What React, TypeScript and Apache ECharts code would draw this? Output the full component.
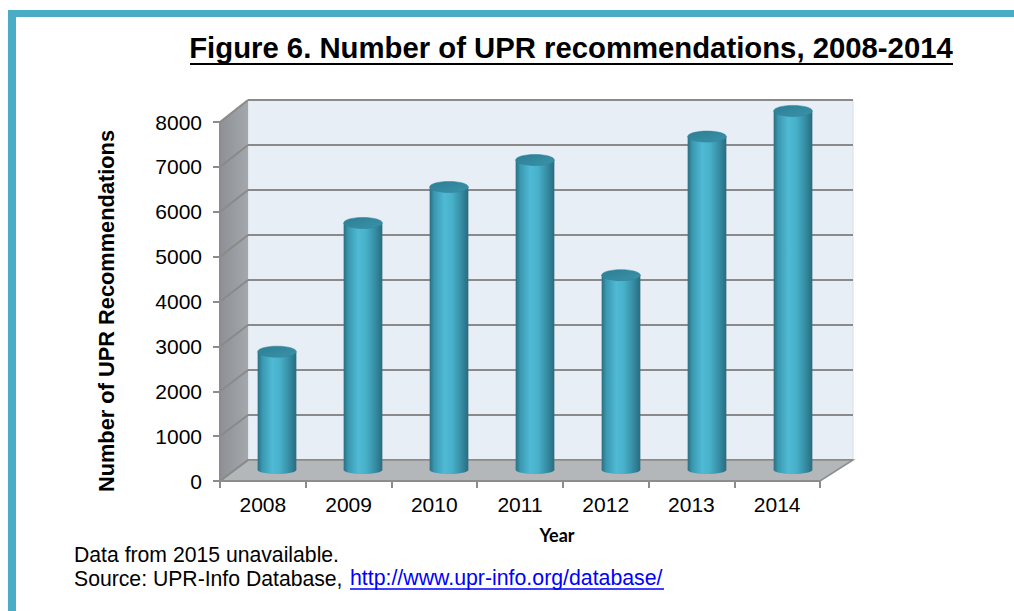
import React, { useEffect, useRef } from "react";
import * as echarts from "echarts";

const years = ["2008", "2009", "2010", "2011", "2012", "2013", "2014"];
const recommendations = [2630, 5490, 6290, 6890, 4330, 7410, 7980];
const yTicks = [0, 1000, 2000, 3000, 4000, 5000, 6000, 7000, 8000];

const FONT = "'Liberation Sans', Arial, sans-serif";

// plot geometry (3D box)
const BACK = { left: 248, top: 100, width: 605, height: 360 };
const MID = { left: 234, top: 110, width: 602, height: 360 };
const FRONT = { left: 220, top: 122, width: 600, height: 359 };
const YMAX = 8000;

export default function App() {
  const ref = useRef<HTMLDivElement>(null);

  useEffect(() => {
    if (!ref.current) return;
    const chart = echarts.init(ref.current, null, { renderer: "svg" });

    const frontY = (v: number) => FRONT.top + FRONT.height * (1 - v / YMAX);
    const backY = (v: number) => BACK.top + BACK.height * (1 - v / YMAX);
    const backBottom = BACK.top + BACK.height;
    const frontBottom = FRONT.top + FRONT.height;
    const backRight = BACK.left + BACK.width;
    const frontRight = FRONT.left + FRONT.width;

    const sideLines = yTicks.map((v) => ({
      type: "line",
      z: 2,
      shape: { x1: FRONT.left, y1: frontY(v), x2: BACK.left, y2: backY(v) },
      style: { stroke: "#8a8a8a", lineWidth: 2 },
    }));

    const cylinderGrad = () =>
      new echarts.graphic.LinearGradient(0, 0, 1, 0, [
        { offset: 0, color: "#2a6f82" },
        { offset: 0.12, color: "#3a98b0" },
        { offset: 0.38, color: "#4fbad4" },
        { offset: 0.58, color: "#48b0ca" },
        { offset: 0.85, color: "#33879d" },
        { offset: 1, color: "#296b7e" },
      ]);

    const option: any = {
      animation: false,
      backgroundColor: "#ffffff",
      grid: [
        { ...BACK, show: true, backgroundColor: "#e8eef5", borderColor: "#d8dee6", borderWidth: 1, containLabel: false },
        { ...MID, show: false, containLabel: false },
        { ...FRONT, show: false, containLabel: false },
      ],
      xAxis: [
        { gridIndex: 0, type: "category", data: years, show: false },
        { gridIndex: 1, type: "category", data: years, show: false },
        {
          gridIndex: 2,
          type: "category",
          data: years,
          axisLine: { show: true, lineStyle: { color: "#8c8c8c", width: 2 } },
          axisTick: { show: true, length: 7, lineStyle: { color: "#8c8c8c", width: 2 } },
          axisLabel: { color: "#000", fontFamily: FONT, fontSize: 21, margin: 13 },
          z: 3,
        },
      ],
      yAxis: [
        {
          gridIndex: 0,
          type: "value",
          min: 0,
          max: YMAX,
          interval: 1000,
          axisLine: { show: false },
          axisTick: { show: false },
          axisLabel: { show: false },
          splitLine: { show: true, lineStyle: { color: "#8a8a8a", width: 2 } },
        },
        { gridIndex: 1, type: "value", min: 0, max: YMAX, interval: 1000, show: false, splitLine: { show: false } },
        {
          gridIndex: 2,
          type: "value",
          min: 0,
          max: YMAX,
          interval: 1000,
          axisLine: { show: true, lineStyle: { color: "#8c8c8c", width: 2 } },
          axisTick: { show: true, length: 7, lineStyle: { color: "#8c8c8c", width: 2 } },
          axisLabel: {
            color: "#000",
            fontFamily: FONT,
            fontSize: 21,
            margin: 18,
            formatter: (v: number) => String(v),
          },
          splitLine: { show: false },
          z: 3,
        },
      ],
      series: [
        {
          type: "custom",
          xAxisIndex: 1,
          yAxisIndex: 1,
          z: 10,
          data: recommendations.map((v, i) => [i, v]),
          renderItem: (params: any, api: any) => {
            const top = api.coord([api.value(0), api.value(1)]);
            const base = api.coord([api.value(0), 0]);
            const band = api.size([1, 0])[0];
            const rx = band * 0.225;
            const ry = 5.5;
            const cx = top[0];
            return {
              type: "group",
              children: [
                {
                  type: "ellipse",
                  shape: { cx, cy: base[1], rx, ry: 4 },
                  style: { fill: cylinderGrad() },
                },
                {
                  type: "rect",
                  shape: { x: cx - rx, y: top[1], width: rx * 2, height: base[1] - top[1] },
                  style: { fill: cylinderGrad() },
                },
                {
                  type: "ellipse",
                  shape: { cx, cy: top[1], rx, ry },
                  style: {
                    fill: new echarts.graphic.LinearGradient(0, 0, 1, 1, [
                      { offset: 0, color: "#2c7e93" },
                      { offset: 1, color: "#3a93aa" },
                    ]),
                    stroke: "#2d8196",
                    lineWidth: 0.5,
                  },
                },
              ],
            };
          },
        },
      ],
      graphic: [
        // teal frame
        { type: "rect", z: 1, shape: { x: 8, y: 10, width: 1006, height: 7 }, style: { fill: "#4bacc6" } },
        { type: "rect", z: 1, shape: { x: 8, y: 10, width: 8, height: 601 }, style: { fill: "#4bacc6" } },
        // side wall
        {
          type: "polygon",
          z: 1,
          shape: {
            points: [
              [FRONT.left, frontY(YMAX)],
              [BACK.left, backY(YMAX)],
              [BACK.left, backBottom],
              [FRONT.left, frontBottom],
            ],
          },
          style: {
            fill: new echarts.graphic.LinearGradient(0, 0, 1, 0, [
              { offset: 0, color: "#8d9095" },
              { offset: 1, color: "#a4a7ab" },
            ]),
          },
        },
        // floor
        {
          type: "polygon",
          z: 1,
          shape: {
            points: [
              [FRONT.left, frontBottom],
              [BACK.left, backBottom],
              [backRight, backBottom],
              [frontRight, frontBottom],
            ],
          },
          style: { fill: "#b4b7ba", stroke: "#8c8c8c", lineWidth: 1.5 },
        },
        ...sideLines,
        // title
        {
          type: "text",
          z: 5,
          style: {
            x: 571,
            y: 47,
            text: "Figure 6. Number of UPR recommendations, 2008-2014",
            fontFamily: FONT,
            fontWeight: "bold",
            fontSize: 29.3,
            fill: "#000",
            align: "center",
            verticalAlign: "middle",
          },
        },
        { type: "line", z: 5, shape: { x1: 190, y1: 64, x2: 953, y2: 64 }, style: { stroke: "#000", lineWidth: 2 } },
        // y axis name
        {
          type: "text",
          z: 5,
          x: 106,
          y: 311,
          rotation: Math.PI / 2,
          style: {
            x: 0,
            y: 0,
            text: "Number of UPR Recommendations",
            fontFamily: FONT,
            fontWeight: "bold",
            fontSize: 21.8,
            fill: "#000",
            align: "center",
            verticalAlign: "middle",
          },
        },
        // x axis name
        {
          type: "text",
          z: 5,
          style: {
            x: 557,
            y: 535,
            text: "Year",
            fontFamily: "Lato, 'Open Sans', sans-serif",
            fontWeight: "bold",
            fontSize: 18,
            fill: "#000",
            align: "center",
            verticalAlign: "middle",
          },
        },
        // footer
        {
          type: "text",
          z: 5,
          style: {
            x: 74,
            y: 554,
            text: "Data from 2015 unavailable.",
            fontFamily: FONT,
            fontSize: 21.2,
            fill: "#000",
            align: "left",
            verticalAlign: "middle",
          },
        },
        {
          type: "text",
          z: 5,
          style: {
            x: 74,
            y: 578,
            text: "Source: UPR-Info Database, ",
            fontFamily: FONT,
            fontSize: 21.2,
            fill: "#000",
            align: "left",
            verticalAlign: "middle",
          },
        },
        {
          type: "text",
          z: 5,
          style: {
            x: 350,
            y: 578,
            text: "http://www.upr-info.org/database/",
            fontFamily: FONT,
            fontSize: 21.3,
            fill: "#0000ff",
            align: "left",
            verticalAlign: "middle",
          },
        },
        { type: "line", z: 5, shape: { x1: 350, y1: 589, x2: 664, y2: 589 }, style: { stroke: "#0000ff", lineWidth: 1.5 } },
      ],
    };

    chart.setOption(option);
    return () => chart.dispose();
  }, []);

  return (
    <div
      ref={ref}
      style={{ position: "fixed", left: 0, top: 0, width: 1014, height: 611, background: "#fff" }}
    />
  );
}
